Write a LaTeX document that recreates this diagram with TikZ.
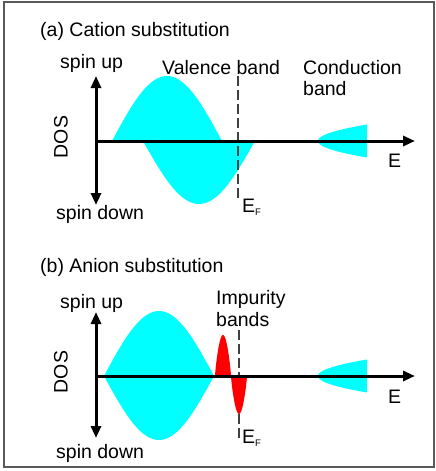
\documentclass[tikz,border=0pt]{standalone}
\usepackage{fontspec}
\setmainfont{Liberation Sans}
\usetikzlibrary{arrows.meta}
\definecolor{bandcyan}{RGB}{0,255,255}
\definecolor{impred}{RGB}{255,0,0}
\begin{document}
\begin{tikzpicture}[x=1pt,y=-1pt,
  font=\fontsize{19.5}{23}\selectfont,
  lbl/.style={inner sep=0pt, anchor=base west},
  rotlbl/.style={inner sep=0pt, rotate=90},
  haxis/.style={line width=3pt, -{Triangle[length=12pt,width=10pt]}},
  vaxis/.style={line width=3pt, {Triangle[length=12pt,width=10pt]}-{Triangle[length=12pt,width=10pt]}},
  fermi/.style={draw=black!75, line width=1.2pt, dash pattern=on 10pt off 4pt},
  band/.style={fill=bandcyan},
  imp/.style={fill=impred},
  frame/.style={draw=black!65, line width=2pt}]
\useasboundingbox (0,0) rectangle (436,471);
\draw[frame] (3.7,1.8) rectangle (434,466.6);

% ---------- panel (a) ----------
\coordinate (a0) at (96,141);
\coordinate (aE) at (415,141);
\coordinate (aU) at (96,76);
\coordinate (aD) at (96,205);
\coordinate (aF1) at (238,76);
\coordinate (aF2) at (238,199);

\fill[band] plot[domain=0:1,samples=60] ({112+110*\x},{141-65*sin(180*\x)}) -- cycle;
\fill[band] plot[domain=0:1,samples=60] ({143+112*\x},{141+63*sin(180*\x)}) -- cycle;
\fill[band] plot[domain=-1:1,samples=60] ({318+49*\x*\x},{141+16.5*\x}) -- cycle;

\draw[fermi] (aF1) -- (aF2);
\draw[haxis] (a0) -- (aE);
\draw[vaxis] (aD) -- (aU);

\node[lbl] (atitle) at (40,36.5) {(a) Cation substitution};
\node[lbl] (aup) at (60,68) {spin up};
\node[lbl] (adown) at (56,219) {spin down};
\node[rotlbl] (ados) at (61,137) {DOS};
\node[lbl] (aval) at (162,74) {Valence band};
\node[lbl] (acon1) at (303,74) {Conduction};
\node[lbl] (acon2) at (303,95) {band};
\node[lbl] (aEl) at (388,167.5) {E};
\node[lbl] (aEF) at (242,212) {E\raisebox{-3pt}{\fontsize{9.5}{10}\selectfont F}};

% ---------- panel (b) ----------
\coordinate (b0) at (96,376);
\coordinate (bE) at (415,376);
\coordinate (bU) at (96,312);
\coordinate (bD) at (96,438);
\coordinate (bF1) at (239,330);
\coordinate (bF2) at (239,439);

\fill[band] plot[domain=0:1,samples=60] ({104+110*\x},{376-65*sin(180*\x)})
  -- plot[domain=1:0,samples=60] ({104+110*\x},{376+64*sin(180*\x)}) -- cycle;
\fill[band] plot[domain=-1:1,samples=60] ({318+49*\x*\x},{376+16.5*\x}) -- cycle;

\draw[fermi] (bF1) -- (bF2);
\fill[imp] plot[domain=0:1,samples=60] ({215+16*\x},{376-41*sin(180*\x)^0.8}) -- cycle;
\fill[imp] plot[domain=0:1,samples=60] ({231+16*\x},{376+38*sin(180*\x)^0.8}) -- cycle;

\draw[haxis] (b0) -- (bE);
\draw[vaxis] (bD) -- (bU);

\node[lbl] (btitle) at (40,272) {(b) Anion substitution};
\node[lbl] (bup) at (60,308.5) {spin up};
\node[lbl] (bdown) at (56,458) {spin down};
\node[rotlbl] (bdos) at (61,372) {DOS};
\node[lbl] (bimp1) at (216,304) {Impurity};
\node[lbl] (bimp2) at (216,326) {bands};
\node[lbl] (bEl) at (388,403) {E};
\node[lbl] (bEF) at (242,443) {E\raisebox{-3pt}{\fontsize{9.5}{10}\selectfont F}};
\end{tikzpicture}
\end{document}
